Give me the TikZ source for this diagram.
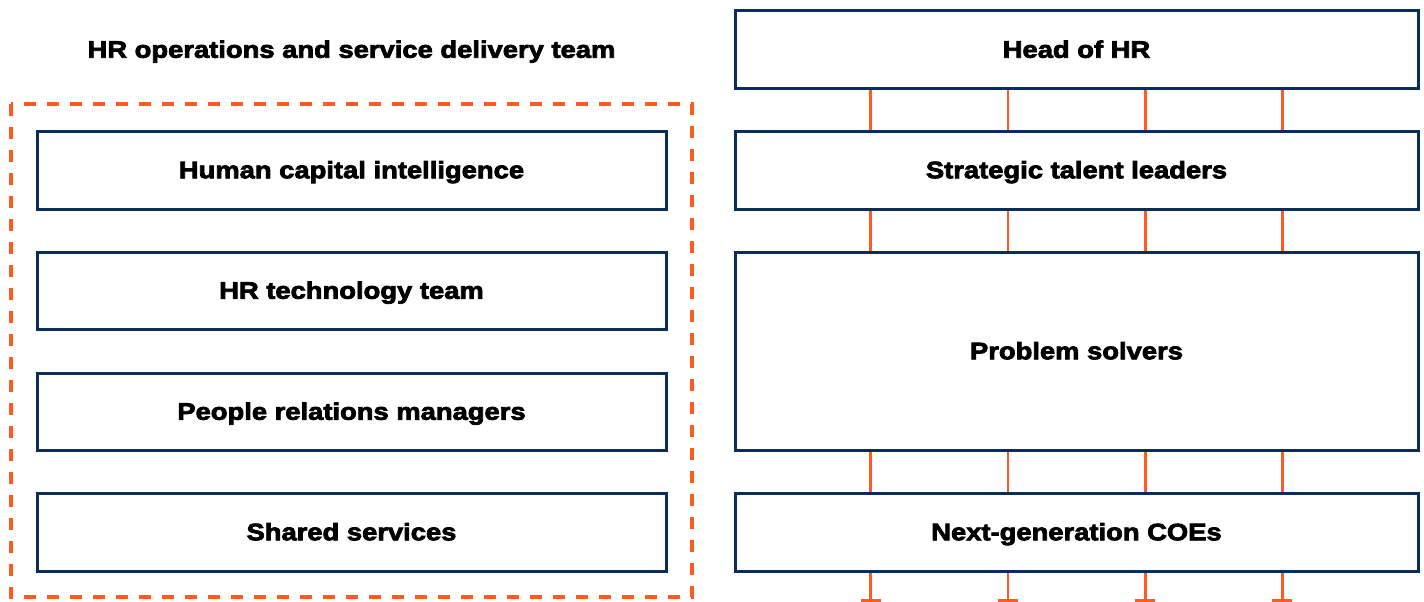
\documentclass[tikz,border=0pt]{standalone}
\usepackage{fontspec}
\setmainfont{Liberation Sans}[FakeStretch=1.15, BoldFeatures={FakeBold=3.2}]
\usetikzlibrary{arrows.meta,calc}
\definecolor{navy}{HTML}{0B2D5B}
\definecolor{orng}{HTML}{FF5A1F}
\tikzset{
  lbl/.style={font=\bfseries\fontsize{23.8}{26}\selectfont, text=black, text height=16.5pt, text depth=0pt},
  box/.style={lbl, draw=navy, line width=3pt, fill=white, inner sep=0pt},
  link/.style={draw=orng, line width=2.8pt},
  tbar/.style={draw=orng, line width=2.8pt, -{Bar[width=20pt,line width=2.8pt]}},
  group/.style={draw=orng, line width=3.2pt, dash pattern=on 12pt off 11pt},
}
\begin{document}
\begin{tikzpicture}[x=1pt,y=1pt]
\useasboundingbox (0,0) rectangle (1424,-602);
% left group
\draw[group] (11,-104) rectangle (692,-597);
\node[lbl, inner sep=0pt] (title) at (351.5,-49.5) {HR operations and service delivery team};
\node[box, minimum width=629pt, minimum height=78pt] (hci) at (351.5,-170) {Human capital intelligence};
\node[box, minimum width=629pt, minimum height=77pt] (hrt) at (351.5,-290.5) {HR technology team};
\node[box, minimum width=629pt, minimum height=77pt] (prm) at (351.5,-411.5) {People relations managers};
\node[box, minimum width=629pt, minimum height=78pt] (ss) at (351.5,-532) {Shared services};
% right column
\node[box, minimum width=683pt, minimum height=77pt] (head) at (1076.5,-49.5) {Head of HR};
\node[box, minimum width=683pt, minimum height=78pt] (stl) at (1076.5,-170) {Strategic talent leaders};
\node[box, minimum width=683pt, minimum height=198pt] (ps) at (1076.5,-351) {Problem solvers};
\node[box, minimum width=683pt, minimum height=78pt] (coe) at (1076.5,-532) {Next-generation COEs};
\foreach \i/\f in {1/0.2,2/0.4,3/0.6,4/0.8}{
  \coordinate (end\i) at ($(coe.south west)!\f!(coe.south east)+(0,-29.5)$);
  \draw[link] ($(head.south west)!\f!(head.south east)$) -- ($(stl.north west)!\f!(stl.north east)$);
  \draw[link] ($(stl.south west)!\f!(stl.south east)$) -- ($(ps.north west)!\f!(ps.north east)$);
  \draw[link] ($(ps.south west)!\f!(ps.south east)$) -- ($(coe.north west)!\f!(coe.north east)$);
  \draw[tbar] ($(coe.south west)!\f!(coe.south east)$) -- (end\i);
}
\end{tikzpicture}
\end{document}
